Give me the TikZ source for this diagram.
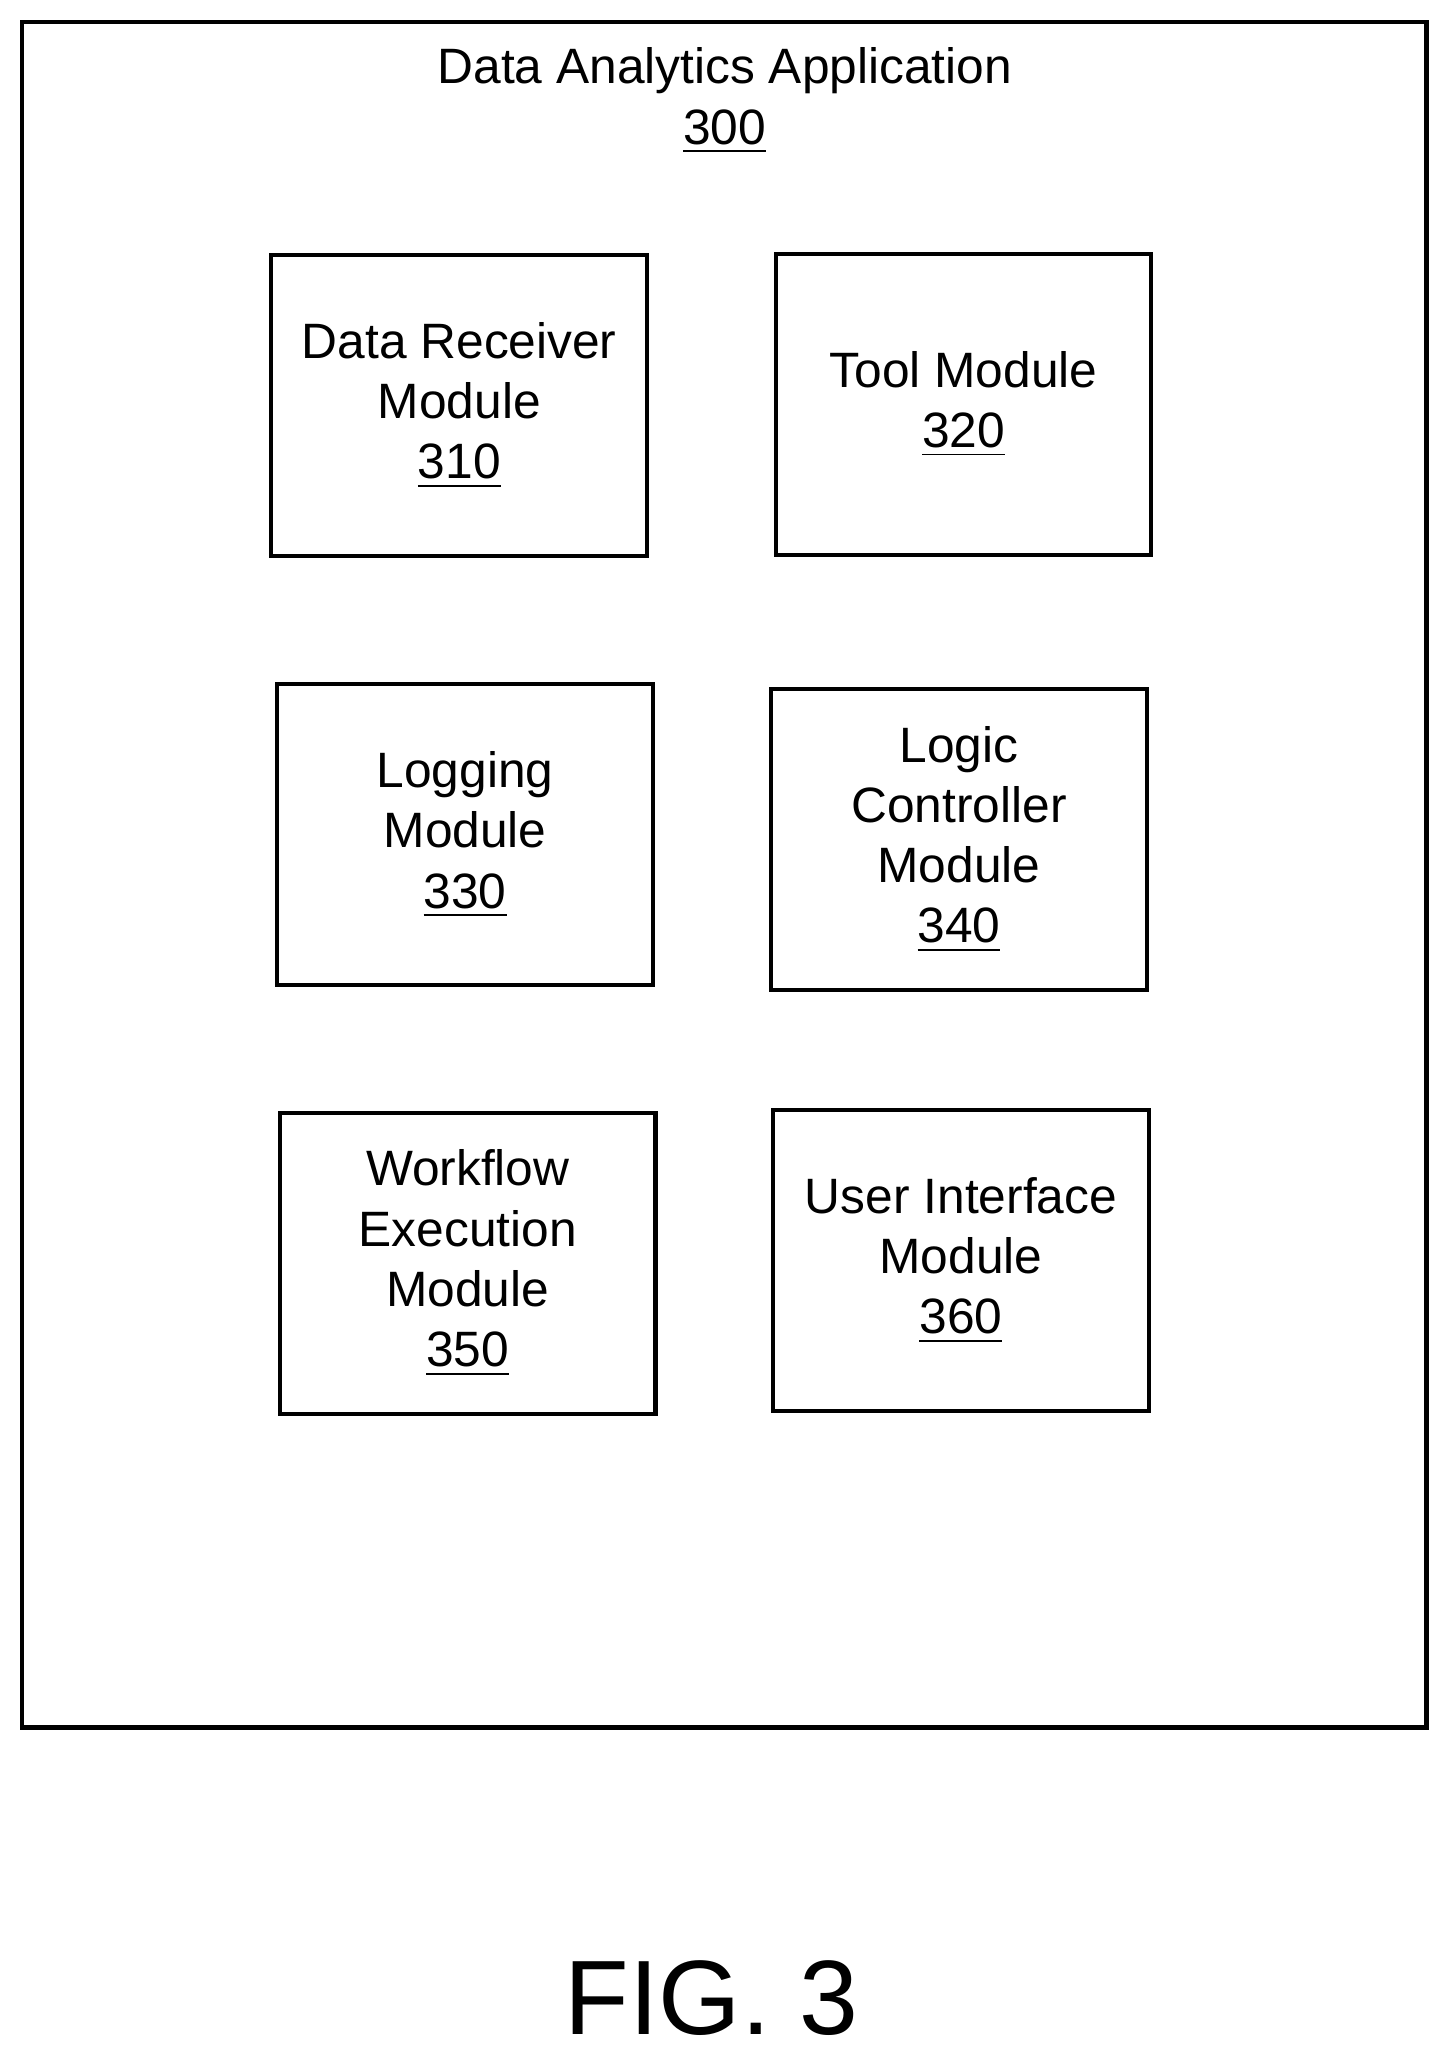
\documentclass[tikz,border=0pt]{standalone}
\usepackage{fontspec}
\setmainfont{Liberation Sans}
\usetikzlibrary{positioning}
\begin{document}
\begin{tikzpicture}[x=0.01cm, y=-0.01cm,
                mod/.style={rectangle, draw, line width=0.9pt, minimum width=2.87cm, minimum height=2.3cm, align=center, font=\fontsize{10.8}{13.1}\selectfont},
                ttl/.style={align=center, font=\fontsize{10.8}{13.1}\selectfont}
            ]
                \useasboundingbox (0,0) rectangle (1110,1570);
                % Outer frame
                \node[draw, line width=0.9pt, minimum width=10.73cm, minimum height=13.03cm] (app) at (553.5,668.5) {};
                \node[ttl] (apptxt) at (554,77) {Data Analytics Application\\\underline{300}};

                % Row 1
                \node[mod] (drm) at (351,310) {Data Receiver\\Module\\\underline{310}};
                \node[mod] (tm) at (736.5,309) {Tool Module\\\underline{320}};

                % Row 2
                \node[mod] (lm) at (355.5,638) {Logging\\Module\\\underline{330}};
                \node[mod] (lcm) at (733,641.5) {Logic\\Controller\\Module\\\underline{340}};

                % Row 3
                \node[mod] (wem) at (357.5,965.5) {Workflow\\Execution\\Module\\\underline{350}};
                \node[mod] (uim) at (734.5,963.5) {User Interface\\Module\\\underline{360}};

                % Caption
                \node[font=\fontsize{23}{28}\selectfont] (fig) at (544,1527) {FIG. 3};
            \end{tikzpicture}
\end{document}
